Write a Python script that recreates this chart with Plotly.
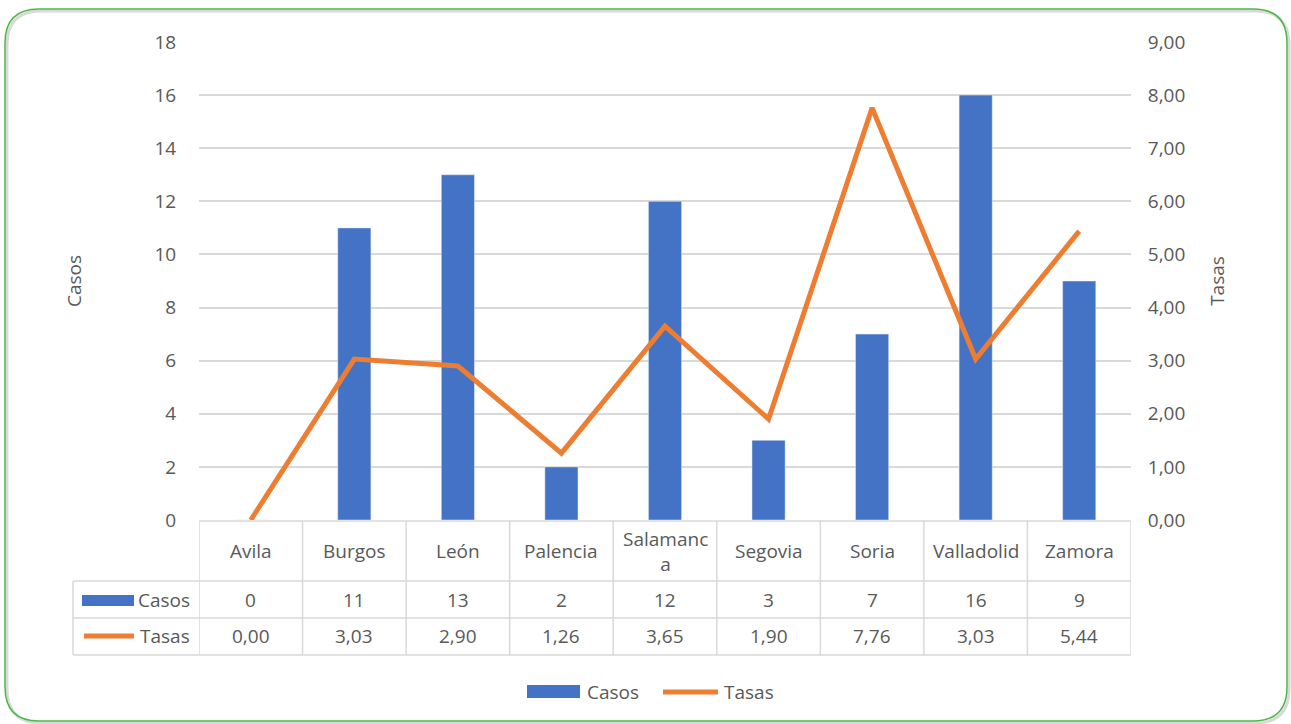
import plotly.graph_objects as go

# ---- data ----
categories = ["Avila", "Burgos", "León", "Palencia", "Salamanca", "Segovia", "Soria", "Valladolid", "Zamora"]
header_labels = ["Avila", "Burgos", "León", "Palencia", "Salamanc<br>a", "Segovia", "Soria", "Valladolid", "Zamora"]
casos = [0, 11, 13, 2, 12, 3, 7, 16, 9]
tasas = [0.00, 3.03, 2.90, 1.26, 3.65, 1.90, 7.76, 3.03, 5.44]

BLUE = "#4472C4"
ORANGE = "#ED7D31"
GRID = "#D9D9D9"
TXT = "#595959"
FONT = "Open Sans"
FS = 19

W, H = 1291, 724
L, R, T, B = 199, 1131, 42, 520


def px(x):
    return (x - L) / (R - L)


def py(y):
    return (B - y) / (B - T)


fig = go.Figure()
fig.add_trace(go.Bar(x=categories, y=casos, name="Casos", marker_color=BLUE, width=0.32,
                     showlegend=False))
fig.add_trace(go.Scatter(x=categories, y=tasas, name="Tasas", yaxis="y2", mode="lines",
                         line=dict(color=ORANGE, width=5), showlegend=False))

shapes = []
line_style = dict(color=GRID, width=1.5)
# table horizontal lines
shapes.append(dict(type="line", xref="x", yref="paper", x0=-0.5, x1=8.5, y0=py(521), y1=py(521), line=line_style))
for yy in (581, 618, 655):
    shapes.append(dict(type="line", xref="paper", yref="paper", x0=px(73), x1=1.0, y0=py(yy), y1=py(yy), line=line_style))
# table vertical lines
for k in range(len(categories) + 1):
    shapes.append(dict(type="line", xref="x", yref="paper", x0=k - 0.5, x1=k - 0.5, y0=py(521), y1=py(655), line=line_style))
shapes.append(dict(type="line", xref="paper", yref="paper", x0=px(73), x1=px(73), y0=py(581), y1=py(655), line=line_style))

# legend keys inside table
shapes.append(dict(type="rect", xref="paper", yref="paper", x0=px(82), x1=px(134), y0=py(606), y1=py(595),
                   fillcolor=BLUE, line=dict(width=0)))
shapes.append(dict(type="line", xref="paper", yref="paper", x0=px(84), x1=px(134), y0=py(636), y1=py(636),
                   line=dict(color=ORANGE, width=5)))
# bottom legend keys
shapes.append(dict(type="rect", xref="paper", yref="paper", x0=px(527), x1=px(580), y0=py(698), y1=py(685),
                   fillcolor=BLUE, line=dict(width=0)))
shapes.append(dict(type="line", xref="paper", yref="paper", x0=px(663), x1=px(718), y0=py(692), y1=py(692),
                   line=dict(color=ORANGE, width=5)))


# rounded frame
def frame_path(x0, y0, x1, y1, r):
    pts = [
        ("M", [(x0 + r, y0)]), ("L", [(x1 - r, y0)]), ("Q", [(x1, y0), (x1, y0 + r)]),
        ("L", [(x1, y1 - r)]), ("Q", [(x1, y1), (x1 - r, y1)]), ("L", [(x0 + r, y1)]),
        ("Q", [(x0, y1), (x0, y1 - r)]), ("L", [(x0, y0 + r)]), ("Q", [(x0, y0), (x0 + r, y0)]),
    ]
    s = ""
    for cmd, ps in pts:
        s += cmd + " " + " ".join(f"{px(a):.5f},{py(b):.5f}" for a, b in ps) + " "
    return s + "Z"


shapes.append(dict(type="path", xref="paper", yref="paper", path=frame_path(7, 11, 1289, 723, 34),
                   line=dict(color="rgba(0,0,0,0.15)", width=3), layer="below"))
shapes.append(dict(type="path", xref="paper", yref="paper", path=frame_path(5, 9, 1287, 721, 34),
                   line=dict(color="#4CB848", width=1.5), layer="below"))

annotations = []
tf = dict(family=FONT, size=FS, color=TXT)
for i, cat in enumerate(categories):
    annotations.append(dict(text=header_labels[i], x=cat, xref="x", y=py(551), yref="paper",
                            showarrow=False, xanchor="center", yanchor="middle", font=tf))
    annotations.append(dict(text=str(casos[i]), x=cat, xref="x", y=py(600), yref="paper",
                            showarrow=False, xanchor="center", yanchor="middle", font=tf))
    annotations.append(dict(text=f"{tasas[i]:.2f}".replace(".", ","), x=cat, xref="x", y=py(636), yref="paper",
                            showarrow=False, xanchor="center", yanchor="middle", font=tf))
annotations.append(dict(text="Casos", x=px(192), xref="paper", y=py(600), yref="paper", showarrow=False,
                        xanchor="right", yanchor="middle", font=tf))
annotations.append(dict(text="Tasas", x=px(192), xref="paper", y=py(636), yref="paper", showarrow=False,
                        xanchor="right", yanchor="middle", font=tf))
annotations.append(dict(text="Casos", x=px(585), xref="paper", y=py(692), yref="paper", showarrow=False,
                        xanchor="left", yanchor="middle", font=tf))
annotations.append(dict(text="Tasas", x=px(722), xref="paper", y=py(692), yref="paper", showarrow=False,
                        xanchor="left", yanchor="middle", font=tf))

fig.update_layout(
    width=W, height=H,
    margin=dict(l=L, r=W - R, t=T, b=H - B, pad=0),
    paper_bgcolor="white", plot_bgcolor="white",
    separators=",.",
    font=dict(family=FONT, size=FS, color=TXT),
    showlegend=False,
    xaxis=dict(type="category", range=[-0.5, 8.5], showticklabels=False, showgrid=False,
               zeroline=False, showline=False, ticks=""),
    yaxis=dict(range=[0, 18], dtick=2, showgrid=True, gridcolor=GRID, gridwidth=1.5,
               zeroline=False, showline=False, ticks="outside", ticklen=18, tickcolor="rgba(0,0,0,0)",
               tickfont=tf, automargin=False,
               title=dict(text="Casos", font=tf, standoff=67)),
    yaxis2=dict(range=[0, 9], dtick=1, tickformat=".2f", overlaying="y", side="right",
                showgrid=False, zeroline=False, showline=False, ticks="outside", ticklen=12,
                tickcolor="rgba(0,0,0,0)", tickfont=tf, automargin=False,
                title=dict(text="Tasas", font=tf, standoff=26)),
    shapes=shapes,
    annotations=annotations,
)

fig.write_html("out.html", config={"displayModeBar": False},
               post_script="document.body.style.margin='0';document.body.style.overflow='hidden';")
